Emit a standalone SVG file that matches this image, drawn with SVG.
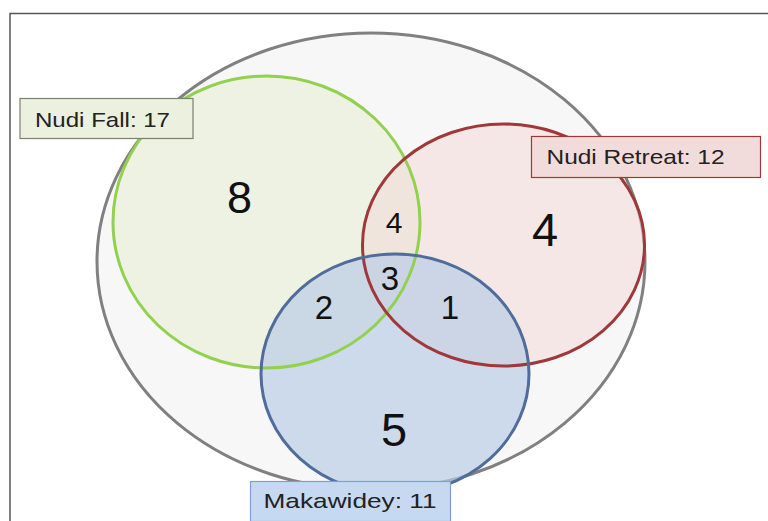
<svg xmlns="http://www.w3.org/2000/svg" width="768" height="521" viewBox="0 0 768 521">
<style>
.num{font-family:"Liberation Sans",Arial,sans-serif;fill:#111;text-anchor:middle}
.lbl{font-family:"Liberation Sans",Arial,sans-serif;font-size:21px;fill:#222}
.ol{fill:none;stroke-width:3}
</style>
<defs>
<ellipse id="e-fall" cx="266.5" cy="222" rx="153.5" ry="146"/>
<ellipse id="e-retreat" cx="503.5" cy="245" rx="141" ry="121"/>
<ellipse id="e-maka" cx="395" cy="374" rx="134" ry="120"/>
</defs>
<rect width="768" height="521" fill="#fff"/>
<path d="M10 521 V13.5 H768" fill="none" stroke="#555" stroke-width="1.5"/>
<g id="universe"><ellipse cx="371" cy="261.5" rx="274" ry="228.5" fill="#f7f7f7" stroke="#808080" stroke-width="3"/></g>
<g id="nudi-fall">
<use href="#e-fall" fill="#ebf1de" fill-opacity="0.85"/>
</g>
<g id="nudi-retreat">
<use href="#e-retreat" fill="#f2dcdb" fill-opacity="0.6"/>
</g>
<g id="makawidey">
<use href="#e-maka" fill="#b9cde5" fill-opacity="0.7"/>
</g>
<g id="outlines">
<use href="#e-fall" class="ol" stroke="#92d050"/>
<use href="#e-retreat" class="ol" stroke="#a0373a"/>
<use href="#e-maka" class="ol" stroke="#4f6c9a"/>
</g>
<g id="counts">
<text class="num" x="239.5" y="212.5" font-size="45">8</text>
<text class="num" x="545" y="246" font-size="47">4</text>
<text class="num" x="394" y="233" font-size="30">4</text>
<text class="num" x="390" y="290" font-size="33">3</text>
<text class="num" x="324" y="319" font-size="33">2</text>
<text class="num" x="450" y="319" font-size="33">1</text>
<text class="num" x="394" y="446" font-size="47">5</text>
</g>
<g id="label-nudi-fall"><rect x="20" y="98.5" width="173" height="40" fill="#ebf1de" stroke="#7f7f6f" stroke-width="1.2"/><text class="lbl" x="35" y="126.5" textLength="135" lengthAdjust="spacingAndGlyphs">Nudi Fall: 17</text></g>
<g id="label-nudi-retreat"><rect x="531.5" y="136.5" width="229" height="41" fill="#f2dcdb" stroke="#a0373a" stroke-width="1.2"/><text class="lbl" x="546.5" y="164" textLength="178" lengthAdjust="spacingAndGlyphs">Nudi Retreat: 12</text></g>
<g id="label-makawidey"><rect x="250.5" y="481.5" width="200" height="40" fill="#c6d9f1" stroke="#7f9fcf" stroke-width="1.2"/><text class="lbl" x="263.5" y="508" textLength="173" lengthAdjust="spacingAndGlyphs">Makawidey:  11</text></g>
</svg>
